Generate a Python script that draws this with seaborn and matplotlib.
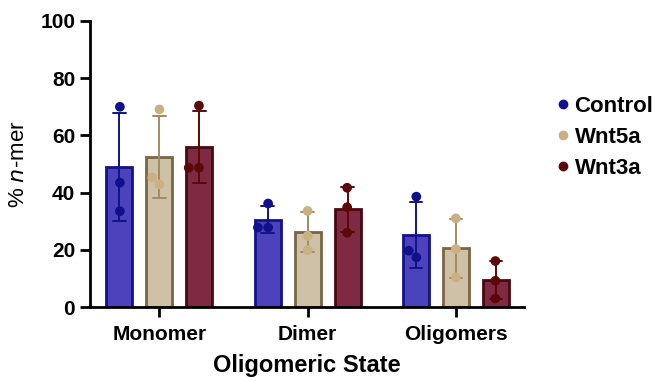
import numpy as np
import pandas as pd
import matplotlib
matplotlib.use("Agg")
import matplotlib.pyplot as plt
import seaborn as sns
from matplotlib.lines import Line2D

#data (three replicates per condition)
states = ["Monomer", "Dimer", "Oligomers"]
treatments = ["Control", "Wnt5a", "Wnt3a"]
control = [[70.0, 43.5, 33.5], [36.2, 27.8, 27.8], [38.6, 17.4, 19.7]]
wnt5a = [[69.1, 42.9, 45.3], [33.6, 24.9, 19.9], [31.0, 20.3, 10.4]]
wnt3a = [[70.4, 48.7, 48.7], [41.7, 34.9, 26.0], [16.1, 9.2, 3.0]]

#colours
fill_colors = ["#3b2fd0", "#d4c3a1", "#8c1c3c"]
edge_colors = ["#12128a", "#7a6644", "#4a0810"]
err_colors = ["#12128a", "#a08c64", "#5c0808"]
dot_colors = ["#10108c", "#c9b183", "#5c0808"]

rows = []
for name, reps in zip(treatments, [control, wnt5a, wnt3a]):
    for state, vals in zip(states, reps):
        for v in vals:
            rows.append({"state": state, "treatment": name, "value": v})
df = pd.DataFrame(rows)

sns.set_style("ticks")
plt.rcParams['font.family'] = ['Liberation Sans', 'DejaVu Sans']
plt.rcParams['text.color'] = 'black'
plt.rcParams['axes.labelcolor'] = 'black'
plt.rcParams['xtick.color'] = 'black'
plt.rcParams['ytick.color'] = 'black'

fig = plt.figure(figsize=(6.6, 3.81), dpi=100)
ax = fig.add_axes([0.136, 0.194, 0.658, 0.751])

#bars with SD error bars
sns.barplot(data=df, x="state", y="value", hue="treatment", order=states,
            hue_order=treatments, palette=fill_colors, errorbar="sd",
            width=0.81, gap=0.35, capsize=0.25, err_kws={"linewidth": 1.4},
            legend=False, ax=ax)

for i, p in enumerate(ax.patches):
    p.set_edgecolor(edge_colors[i // 3])
    p.set_linewidth(2)
for i, ln in enumerate(ax.lines):
    ln.set_color(err_colors[i // 3])
    ln.set_zorder(3)

#individual points
sns.swarmplot(data=df, x="state", y="value", hue="treatment", order=states,
              hue_order=treatments, palette=dot_colors, dodge=True, size=7,
              legend=False, ax=ax, zorder=4)

ax.set_ylim(0, 100)
ax.set_xlim(-0.47, 2.46)
ax.set_yticks([0, 20, 40, 60, 80, 100])
for s in ["top", "right"]:
    ax.spines[s].set_visible(False)
for s in ["left", "bottom"]:
    ax.spines[s].set_linewidth(2)
    ax.spines[s].set_color("black")
ax.tick_params(axis="both", width=2, length=7, color="black", labelsize=15)
ax.tick_params(axis="x", pad=6)
for lab in ax.get_xticklabels() + ax.get_yticklabels():
    lab.set_fontweight("bold")
ax.set_xlabel("Oligomeric State", fontsize=17, fontweight="bold", labelpad=7)
ax.set_ylabel("% $\\it{n}$-mer", fontsize=16, labelpad=8)

handles = [Line2D([], [], marker="o", linestyle="none", color=c, markersize=6)
           for c in dot_colors]
leg = fig.legend(handles, treatments, loc="center left", bbox_to_anchor=(0.81, 0.64),
                 frameon=False, handletextpad=0.1, labelspacing=0.45, handlelength=0.8,
                 prop={"weight": "bold", "size": 16})

fig.savefig("out.png", dpi=100)
